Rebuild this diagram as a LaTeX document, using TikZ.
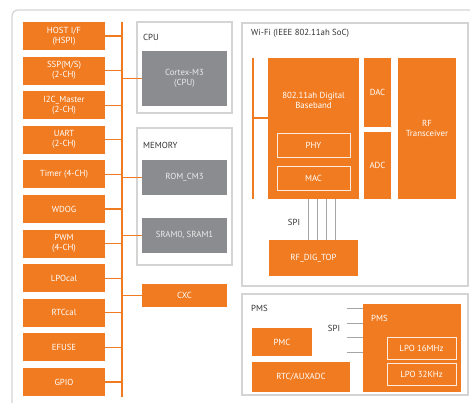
\documentclass[tikz,border=0pt]{standalone}
\usepackage{fontspec}
\setmainfont{PT Sans}
\definecolor{orng}{RGB}{241,123,32}
\definecolor{gbox}{RGB}{138,140,143}
\definecolor{gframe}{RGB}{212,212,212}
\definecolor{gline}{RGB}{165,165,165}
\definecolor{gtext}{RGB}{235,235,235}
\begin{document}
\begin{tikzpicture}[x=1pt,y=-1pt,
  every node/.style={font=\fontsize{8.8}{10}\selectfont, inner sep=0pt, align=center},
  obox/.style={fill=orng, text=white, draw=none},
  gbx/.style={fill=gbox, text=gtext, draw=none},
  frm/.style={draw=gframe, line width=1.2pt, fill=white},
  ibox/.style={draw=white!85!orng, line width=0.9pt, text=white},
  bus/.style={draw=orng, line width=1.3pt},
  spi/.style={draw=gline, line width=0.9pt},
  lbl/.style={text=black!80, anchor=west}]
\useasboundingbox (0,0) rectangle (470,403);
\clip (0,0) rectangle (470,403);
\fill[white] (0,0) rectangle (470,403);
\draw[draw=gframe, line width=1.2pt, rounded corners=6pt] (12,10) rectangle (490,420);

% left column
\foreach \n/\t [count=\i from 0] in {host/{HOST I/F\\(HSPI)}, ssp/{SSP(M/S)\\(2-CH)}, iic/{I2C\_Master\\(2-CH)}, uart/{UART\\(2-CH)}, timer/{Timer (4-CH)}, wdog/{WDOG}, pwm/{PWM\\(4-CH)}, lpocal/{LPOcal}, rtccal/{RTCcal}, efuse/{EFUSE}, gpio/{GPIO}}{
  \node[obox, minimum width=82pt, minimum height=28pt] (\n) at (64,36+34.6*\i) {\t};
}
\coordinate (bt) at (122,22);
\coordinate (bb) at (122,397);
\draw[bus] (bt) -- (bb);
\foreach \n in {host,ssp,iic,uart,timer,wdog,pwm,lpocal,rtccal,efuse,gpio}{
  \draw[bus] (\n.east) -- (\n.east -| bt);
}

% CPU
\node[frm, minimum width=95pt, minimum height=91pt] (cpuf) at (184.5,67.5) {};
\node[lbl] (cpul) at (143,37) {CPU};
\node[gbx, minimum width=85pt, minimum height=55pt] (cortex) at (184.5,78.5) {Cortex-M3\\(CPU)};
% MEMORY
\node[frm, minimum width=95pt, minimum height=137pt] (memf) at (184.5,196.5) {};
\node[lbl] (meml) at (143,145) {MEMORY};
\node[gbx, minimum width=85pt, minimum height=35pt] (rom) at (184.5,177.5) {ROM\_CM3};
\node[gbx, minimum width=85pt, minimum height=35pt] (sram) at (184.5,235.5) {SRAM0, SRAM1};
% CXC
\node[obox, minimum width=85pt, minimum height=23pt] (cxc) at (184.5,295.5) {CXC};
\draw[bus] (bt |- cortex.west) -- (cortex.west);
\draw[bus] (bt |- rom.west) -- (rom.west);
\draw[bus] (bt |- sram.west) -- (sram.west);
\draw[bus] (bt |- cxc.west) -- (cxc.west);

% Wi-Fi
\node[frm, minimum width=226pt, minimum height=263pt] (wifif) at (355,154.5) {};
\node[lbl] (wifil) at (251,33) {Wi-Fi (IEEE 802.11ah SoC)};
\node[obox, minimum width=91pt, minimum height=141pt] (bb80) at (313.5,128.5) {};
\node[text=white] (bbl) at (313.5,100) {802.11ah Digital\\Baseband};
\node[ibox, minimum width=73pt, minimum height=24pt] (phy) at (313.5,145) {PHY};
\node[ibox, minimum width=73pt, minimum height=24pt] (mac) at (313.5,178) {MAC};
\node[obox, minimum width=27pt, minimum height=69pt] (dac) at (377.5,92.5) {DAC};
\node[obox, minimum width=27pt, minimum height=67pt] (adc) at (377.5,165.5) {ADC};
\node[obox, minimum width=58pt, minimum height=141pt] (rf) at (427,128.5) {RF\\Transceiver};
\coordinate (wl) at (253,58);
\coordinate (wlb) at (253,199);
\draw[bus] (wl) -- (wlb);
\coordinate (wlm) at (253,118);
\draw[bus] (wlm) -- (wlm -| bb80.west);
\node[obox, minimum width=89pt, minimum height=36pt] (rfdig) at (313.5,258) {RF\_DIG\_TOP};
\foreach \x in {308,317,326,335}{
  \draw[spi] (\x,0 |- bb80.south) -- (\x,0 |- rfdig.north);
}
\node[text=black!80] (spi1) at (294,222) {SPI};

% PMS
\node[frm, minimum width=226pt, minimum height=101pt] (pmsf) at (355,344.5) {};
\node[lbl] (pmsl) at (251,308) {PMS};
\node[obox, minimum width=60pt, minimum height=28pt] (pmc) at (282,342) {PMC};
\node[obox, minimum width=98pt, minimum height=30pt] (rtc) at (301,377) {RTC/AUXADC};
\node[obox, minimum width=98pt, minimum height=88pt] (pms) at (412,348) {};
\node[text=white, anchor=west] (pmsin) at (371,318) {PMS};
\node[ibox, minimum width=69pt, minimum height=22pt] (lpo16) at (421.5,348) {LPO 16MHz};
\node[ibox, minimum width=69pt, minimum height=22pt] (lpo32) at (421.5,374) {LPO 32KHz};
\foreach \y in {308,323,337,352}{
  \draw[spi] (347,\y) -- (347,\y -| pms.west);
}
\node[text=black!80] (spi2) at (334,328) {SPI};
\end{tikzpicture}
\end{document}
